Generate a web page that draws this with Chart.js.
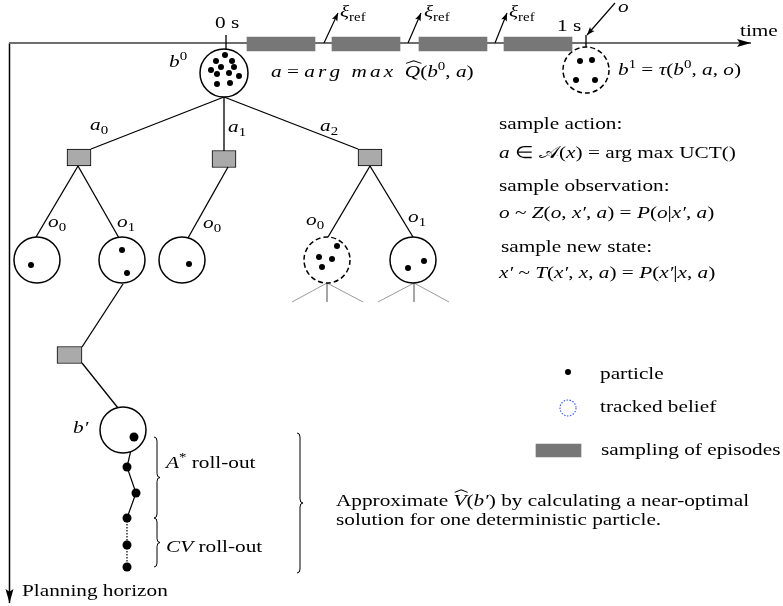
<!DOCTYPE html>
<html>
<head>
<meta charset="utf-8">
<script src="https://cdn.jsdelivr.net/npm/chart.js"></script>
<style>
  body { margin: 0; background: #fff; }
  canvas { display: block; }
</style>
</head>
<body>
<canvas id="myChart" width="783" height="606"></canvas>
<script>
var ctx = document.getElementById("myChart");

// belief nodes [x, y, radius]
const beliefNodes = [[224, 73, 24], [37, 260, 23], [122, 260, 23], [182, 260, 23], [413, 260, 23], [123, 430, 23]];
// tracked beliefs (dashed) [x, y, radius]
const trackedBeliefs = [[586, 70, 23], [327, 260, 23]];
// particles inside beliefs [x, y]
const particles = [
  [225, 55], [216, 61], [232, 61], [221, 67], [234, 67], [211, 70], [217, 74], [229, 73], [239, 76], [217, 84], [230, 83],
  [580, 61], [592, 60], [576, 80], [595, 80],
  [31, 265], [122, 250], [127, 273], [189, 264],
  [337, 246], [319, 257], [332, 259], [322, 267],
  [424, 261], [408, 268]
];
// roll-out particles [x, y]
const rollout = [[134, 437], [127, 467], [136, 493], [127, 518], [127, 545], [127, 567]];
// action nodes [x0, x1, y]
const actionBoxes = [[67, 91, 157.5], [212, 236, 159], [358, 382, 157.5], [57, 82, 355]];
// sampling episodes on the time axis [x0, x1, y]
const episodes = [[247, 315, 44], [332, 400, 44], [419, 487, 44], [504, 572, 44]];
// tree edges
const edges = [
  [[224, 97], [91, 149]], [[224, 97], [224, 151]], [[224, 97], [358, 149]],
  [[78, 166], [36, 237]], [[78, 166], [119, 238]], [[228, 167], [188, 238]],
  [[370, 166], [328, 237]], [[370, 166], [413, 237]],
  [[123, 284], [82, 347]], [[82, 363], [118, 408]],
  [[226, 35], [226, 49]], [[586, 35], [586, 47]]
];
// unexpanded children (grey)
const stubs = [
  [[327, 283], [292, 302]], [[327, 283], [327, 302]], [[327, 283], [363, 302]],
  [[414, 283], [378, 302]], [[414, 283], [414, 302]], [[414, 283], [449, 302]]
];
// arrows [from, to]
const timeAxis = [[9, 43], [751, 43]];
const horizonAxis = [[9.5, 43], [9.5, 603]];
const xiArrows = [[[324, 43], [338, 13]], [[408, 43], [421, 13]], [[495, 43], [507, 13]]];
const obsArrow = [[615, 3], [587, 35]];
// braces [x, yTop, yBottom]
const braces = [[154, 437, 518], [154, 518, 567], [297, 433, 573]];
// legend
const legendParticle = [568, 372];
const legendBelief = [568, 408, 8];
const legendEpisode = [536, 581, 450.5];

// text: [x, baseline, runs]
const labels = [
  [215, 28, [["0 s", "r"]]],
  [557, 31, [["1 s", "r"]]],
  [740, 36, [["time", "r"]]],
  [340, 17, [["ξ", "i"], ["ref", "sub"]]],
  [424, 17, [["ξ", "i"], ["ref", "sub"]]],
  [509, 17, [["ξ", "i"], ["ref", "sub"]]],
  [618, 12, [["o", "i"]]],
  [169, 67, [["b", "i"], ["0", "sup"]]],
  [271, 77, [["a", "i"], [" = ", "r"], ["arg max ", "is"], ["Q", "hat"], ["(", "r"], ["b", "i"], ["0", "sup"], [", ", "r"], ["a", "i"], [")", "r"]]],
  [618, 75, [["b", "i"], ["1", "sup"], [" = ", "r"], ["τ", "i"], ["(", "r"], ["b", "i"], ["0", "sup"], [", ", "r"], ["a", "i"], [", ", "r"], ["o", "i"], [")", "r"]]],
  [90, 130, [["a", "i"], ["0", "sub"]]],
  [228, 132, [["a", "i"], ["1", "sub"]]],
  [320, 131, [["a", "i"], ["2", "sub"]]],
  [48, 227, [["o", "i"], ["0", "sub"]]],
  [117, 227, [["o", "i"], ["1", "sub"]]],
  [203, 228, [["o", "i"], ["0", "sub"]]],
  [306, 225, [["o", "i"], ["0", "sub"]]],
  [408, 222, [["o", "i"], ["1", "sub"]]],
  [499, 129, [["sample action:", "r"]]],
  [499, 158, [["a", "i"], [" ∈ ", "r"], ["𝒜", "r"], ["(", "r"], ["x", "i"], [") = arg max UCT()", "r"]]],
  [499, 191, [["sample observation:", "r"]]],
  [499, 218, [["o", "i"], [" ~ ", "r"], ["Z", "i"], ["(", "r"], ["o", "i"], [", ", "r"], ["x′", "i"], [", ", "r"], ["a", "i"], [") = ", "r"], ["P", "i"], ["(", "r"], ["o", "i"], ["|", "r"], ["x′", "i"], [", ", "r"], ["a", "i"], [")", "r"]]],
  [501, 252, [["sample new state:", "r"]]],
  [499, 278, [["x′", "i"], [" ~ ", "r"], ["T", "i"], ["(", "r"], ["x′", "i"], [", ", "r"], ["x", "i"], [", ", "r"], ["a", "i"], [") = ", "r"], ["P", "i"], ["(", "r"], ["x′", "i"], ["|", "r"], ["x", "i"], [", ", "r"], ["a", "i"], [")", "r"]]],
  [73, 433, [["b′", "i"]]],
  [166, 468, [["A", "i"], ["*", "sup"], [" roll-out", "r"]]],
  [166, 552, [["CV", "i"], [" roll-out", "r"]]],
  [600, 379, [["particle", "r"]]],
  [600, 412, [["tracked belief", "r"]]],
  [601, 455, [["sampling of episodes", "r"]]],
  [336, 506, [["Approximate ", "r"], ["V", "hat"], ["(", "r"], ["b′", "i"], [") by calculating a near-optimal", "r"]]],
  [336, 525, [["solution for one deterministic particle.", "r"]]],
  [22, 596, [["Planning horizon", "r"]]]
];

const FONT = '"Liberation Serif", "Times New Roman", serif';
const FONT_SIZE = 17;
const STRETCH = 1.25;

const pt = (p) => ({ x: p[0], y: p[1] });

function segment(points, color, width, order, extra) {
  return Object.assign({
    data: points.map(pt),
    showLine: true,
    pointRadius: 0,
    borderColor: color,
    borderWidth: width,
    order: order
  }, extra || {});
}

function bars(list, thickness, fill, border, order) {
  return {
    type: "bar",
    indexAxis: "y",
    grouped: false,
    data: list.map((b) => ({ y: b[2], x: [b[0], b[1]] })),
    barThickness: thickness,
    backgroundColor: fill,
    borderColor: "#000",
    borderWidth: border,
    borderSkipped: false,
    order: order
  };
}

const datasets = [];
edges.forEach((e) => datasets.push(segment(e, "#000", 1.3, 30)));
stubs.forEach((e) => datasets.push(segment(e, "#9a9a9a", 1, 30)));
datasets.push(segment(timeAxis, "#6e6e6e", 2, 31, { arrowHead: [14, 8] }));
datasets.push(segment(horizonAxis, "#000", 1.5, 31, { arrowHead: [14, 8] }));
xiArrows.forEach((e) => datasets.push(segment(e, "#000", 1.2, 30, { arrowHead: [8, 6] })));
datasets.push(segment(obsArrow, "#000", 1.2, 30, { arrowHead: [8, 6] }));
datasets.push(segment(rollout.slice(0, 4), "#000", 1.2, 29));
datasets.push(segment(rollout.slice(3), "#000", 1.2, 29, { borderDash: [1.5, 1.5] }));

datasets.push(bars(episodes, 14, "#777", 0, 20));
datasets.push(bars(actionBoxes, 17, "#aaa", 1, 20));
datasets.push(bars([legendEpisode], 13, "#777", 0, 20));

datasets.push({
  data: beliefNodes.map(pt),
  pointRadius: beliefNodes.map((b) => b[2]),
  pointBackgroundColor: "#fff",
  pointBorderColor: "#000",
  pointBorderWidth: 1.5,
  order: 10
});
datasets.push({
  data: trackedBeliefs.map(pt),
  pointRadius: trackedBeliefs.map((b) => b[2]),
  pointBackgroundColor: "#fff",
  pointBorderColor: "#000",
  pointBorderWidth: 1.5,
  pointDash: [5, 3],
  order: 10
});
datasets.push({
  data: [pt(legendBelief)],
  pointRadius: legendBelief[2],
  pointBackgroundColor: "rgba(0,0,0,0)",
  pointBorderColor: "#3b5bff",
  pointBorderWidth: 1.2,
  pointDash: [1.5, 1.5],
  order: 10
});
datasets.push({
  data: particles.map(pt).concat([pt(legendParticle)]),
  pointRadius: 3,
  pointBackgroundColor: "#000",
  pointBorderWidth: 0,
  order: 1
});
datasets.push({
  data: rollout.map(pt),
  pointRadius: 4.5,
  pointBackgroundColor: "#000",
  pointBorderWidth: 0,
  order: 1
});

const dashPoints = {
  id: "dashPoints",
  beforeDatasetDraw(chart, args) {
    const ds = chart.data.datasets[args.index];
    if (ds.pointDash) {
      chart.ctx.save();
      chart.ctx.setLineDash(ds.pointDash);
    }
  },
  afterDatasetDraw(chart, args) {
    if (chart.data.datasets[args.index].pointDash) chart.ctx.restore();
  }
};

const arrowHeads = {
  id: "arrowHeads",
  afterDatasetsDraw(chart) {
    const c = chart.ctx;
    chart.data.datasets.forEach((ds, i) => {
      if (!ds.arrowHead) return;
      const pts = chart.getDatasetMeta(i).data;
      const a = pts[pts.length - 2], b = pts[pts.length - 1];
      const ang = Math.atan2(b.y - a.y, b.x - a.x);
      const len = ds.arrowHead[0], wid = ds.arrowHead[1];
      c.save();
      c.translate(b.x, b.y);
      c.rotate(ang);
      c.fillStyle = "#000";
      c.beginPath();
      c.moveTo(0, 0);
      c.lineTo(-len, wid / 2);
      c.lineTo(-len * 0.8, 0);
      c.lineTo(-len, -wid / 2);
      c.closePath();
      c.fill();
      c.restore();
    });
  }
};

const braceMarks = {
  id: "braceMarks",
  afterDatasetsDraw(chart) {
    const c = chart.ctx, sx = chart.scales.x, sy = chart.scales.y;
    c.save();
    c.strokeStyle = "#000";
    c.lineWidth = 1;
    braces.forEach((b) => {
      const x = sx.getPixelForValue(b[0]);
      const y0 = sy.getPixelForValue(b[1]);
      const y1 = sy.getPixelForValue(b[2]);
      const ym = (y0 + y1) / 2, w = 3, r = 4;
      c.beginPath();
      c.moveTo(x, y0);
      c.quadraticCurveTo(x + w, y0, x + w, y0 + r);
      c.lineTo(x + w, ym - r);
      c.quadraticCurveTo(x + w, ym, x + 2 * w, ym);
      c.quadraticCurveTo(x + w, ym, x + w, ym + r);
      c.lineTo(x + w, y1 - r);
      c.quadraticCurveTo(x + w, y1, x, y1);
      c.stroke();
    });
    c.restore();
  }
};

const textLabels = {
  id: "textLabels",
  afterDraw(chart) {
    const c = chart.ctx, sx = chart.scales.x, sy = chart.scales.y;
    const size = FONT_SIZE;
    labels.forEach((lab) => {
      c.save();
      c.translate(sx.getPixelForValue(lab[0]), sy.getPixelForValue(lab[1]));
      c.scale(STRETCH, 1);
      c.fillStyle = "#000";
      c.strokeStyle = "#000";
      c.textBaseline = "alphabetic";
      let cx = 0;
      lab[2].forEach((run) => {
        const t = run[0], st = run[1];
        let fs = size, dy = 0, italic = false, spacing = 0;
        if (st === "i" || st === "hat") italic = true;
        if (st === "is") { italic = true; spacing = 2.5; }
        if (st === "sub") { fs = size * 0.7; dy = size * 0.22; }
        if (st === "sup") { fs = size * 0.7; dy = -size * 0.4; }
        c.font = (italic ? "italic " : "") + fs + "px " + FONT;
        let w = 0;
        if (spacing) {
          for (const ch of t) {
            c.fillText(ch, cx + w, dy);
            w += c.measureText(ch).width + spacing;
          }
        } else {
          c.fillText(t, cx, dy);
          w = c.measureText(t).width;
        }
        if (st === "hat") {
          c.lineWidth = 0.9;
          c.beginPath();
          c.moveTo(cx + 1, -size * 0.8);
          c.lineTo(cx + w / 2 + 1, -size * 0.95);
          c.lineTo(cx + w + 1, -size * 0.8);
          c.stroke();
        }
        cx += w;
      });
      c.restore();
    });
  }
};

new Chart(ctx, {
  type: "scatter",
  data: { datasets: datasets },
  options: {
    responsive: false,
    animation: false,
    events: [],
    layout: { padding: 0, autoPadding: false },
    plugins: { legend: { display: false }, tooltip: { enabled: false } },
    scales: {
      x: { type: "linear", min: 0, max: 783, display: false, offset: false, beginAtZero: false },
      y: { type: "linear", min: 0, max: 606, reverse: true, display: false, offset: false, beginAtZero: false }
    }
  },
  plugins: [dashPoints, arrowHeads, braceMarks, textLabels]
});
</script>
</body>
</html>
